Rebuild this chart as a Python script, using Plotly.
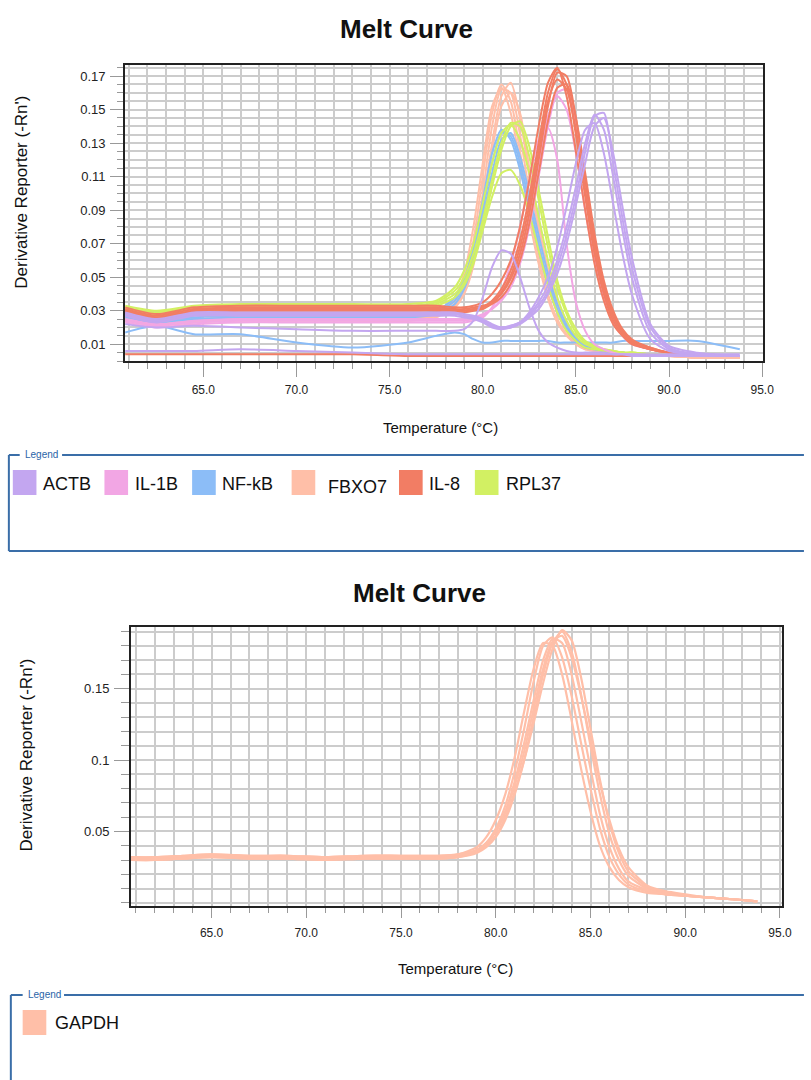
import plotly.graph_objects as go

W, H = 811, 1080


def px(x):
    return x / W


def py(y):
    return 1 - y / H


# ---------------- data: top chart ----------------
TEMP_TOP = [60.8, 62.5, 64.5, 67, 70, 73, 76, 77.5, 78.5, 79, 79.5, 80, 80.5, 81, 81.5, 82,
            82.5, 83, 83.5, 84, 84.5, 85, 85.5, 86, 86.5, 87, 87.5, 88, 89, 90, 91.5, 93.8]

FBXO7_1 = [0.025, 0.022, 0.024, 0.025, 0.025, 0.025, 0.025, 0.027, 0.036, 0.048, 0.072, 0.110, 0.148, 0.165, 0.155, 0.125,
           0.090, 0.062, 0.040, 0.025, 0.016, 0.010, 0.007, 0.006, 0.005, 0.005, 0.004, 0.004, 0.003, 0.003, 0.002, 0.002]
FBXO7_2 = [0.026, 0.023, 0.025, 0.026, 0.026, 0.026, 0.026, 0.027, 0.033, 0.042, 0.060, 0.092, 0.130, 0.158, 0.166, 0.145,
           0.110, 0.078, 0.052, 0.033, 0.021, 0.013, 0.009, 0.007, 0.006, 0.005, 0.004, 0.004, 0.003, 0.003, 0.002, 0.002]
FBXO7_3 = [0.024, 0.021, 0.023, 0.024, 0.024, 0.024, 0.024, 0.026, 0.034, 0.045, 0.066, 0.100, 0.140, 0.162, 0.160, 0.135,
           0.100, 0.070, 0.046, 0.029, 0.018, 0.011, 0.008, 0.006, 0.005, 0.005, 0.004, 0.004, 0.003, 0.003, 0.002, 0.002]
FBXO7_4 = [0.027, 0.023, 0.025, 0.026, 0.026, 0.026, 0.026, 0.028, 0.038, 0.052, 0.080, 0.118, 0.152, 0.163, 0.148, 0.118,
           0.085, 0.058, 0.037, 0.023, 0.015, 0.010, 0.007, 0.006, 0.005, 0.004, 0.004, 0.004, 0.003, 0.003, 0.002, 0.002]
FBXO7_5 = [0.025, 0.022, 0.024, 0.025, 0.025, 0.025, 0.025, 0.027, 0.032, 0.040, 0.057, 0.088, 0.125, 0.152, 0.160, 0.148,
           0.115, 0.082, 0.055, 0.035, 0.022, 0.014, 0.009, 0.007, 0.006, 0.005, 0.004, 0.004, 0.003, 0.003, 0.002, 0.002]

NFKB_1 = [0.027, 0.024, 0.026, 0.027, 0.027, 0.027, 0.027, 0.029, 0.036, 0.046, 0.064, 0.090, 0.118, 0.136, 0.134, 0.118,
          0.095, 0.070, 0.048, 0.031, 0.020, 0.013, 0.009, 0.007, 0.006, 0.005, 0.005, 0.004, 0.004, 0.003, 0.003, 0.003]
NFKB_2 = [0.028, 0.025, 0.027, 0.028, 0.028, 0.028, 0.028, 0.030, 0.038, 0.049, 0.068, 0.096, 0.124, 0.138, 0.132, 0.114,
          0.090, 0.066, 0.045, 0.029, 0.019, 0.012, 0.008, 0.007, 0.006, 0.005, 0.005, 0.004, 0.004, 0.003, 0.003, 0.003]
NFKB_3 = [0.026, 0.023, 0.025, 0.026, 0.026, 0.026, 0.026, 0.028, 0.034, 0.043, 0.060, 0.085, 0.112, 0.132, 0.136, 0.122,
          0.100, 0.075, 0.052, 0.034, 0.022, 0.014, 0.010, 0.008, 0.006, 0.005, 0.005, 0.004, 0.004, 0.003, 0.003, 0.003]
NFKB_LOW = [0.017, 0.021, 0.016, 0.016, 0.011, 0.008, 0.011, 0.015, 0.017, 0.016, 0.013, 0.011, 0.011, 0.012, 0.012, 0.012,
            0.012, 0.012, 0.012, 0.011, 0.011, 0.011, 0.011, 0.011, 0.011, 0.011, 0.012, 0.012, 0.012, 0.012, 0.012, 0.007]

RPL37_1 = [0.032, 0.029, 0.032, 0.033, 0.033, 0.033, 0.033, 0.035, 0.042, 0.050, 0.064, 0.084, 0.108, 0.130, 0.142, 0.140,
           0.122, 0.096, 0.068, 0.044, 0.028, 0.017, 0.011, 0.008, 0.007, 0.006, 0.005, 0.005, 0.004, 0.004, 0.003, 0.003]
RPL37_2 = [0.031, 0.028, 0.031, 0.032, 0.032, 0.032, 0.032, 0.034, 0.040, 0.047, 0.060, 0.080, 0.104, 0.126, 0.140, 0.143,
           0.128, 0.102, 0.074, 0.048, 0.030, 0.019, 0.012, 0.009, 0.007, 0.006, 0.005, 0.005, 0.004, 0.004, 0.003, 0.003]
RPL37_3 = [0.033, 0.030, 0.033, 0.034, 0.034, 0.034, 0.034, 0.036, 0.044, 0.054, 0.070, 0.094, 0.118, 0.136, 0.141, 0.132,
           0.112, 0.086, 0.060, 0.038, 0.024, 0.015, 0.010, 0.008, 0.006, 0.006, 0.005, 0.005, 0.004, 0.004, 0.003, 0.003]
RPL37_4 = [0.030, 0.027, 0.030, 0.031, 0.031, 0.031, 0.031, 0.033, 0.038, 0.045, 0.058, 0.078, 0.098, 0.112, 0.114, 0.105,
           0.088, 0.066, 0.045, 0.029, 0.018, 0.012, 0.008, 0.007, 0.006, 0.005, 0.005, 0.004, 0.004, 0.003, 0.003, 0.003]

IL1B_1 = [0.024, 0.021, 0.023, 0.024, 0.024, 0.024, 0.024, 0.024, 0.024, 0.024, 0.025, 0.027, 0.031, 0.037, 0.046, 0.062,
          0.086, 0.116, 0.146, 0.158, 0.150, 0.124, 0.090, 0.060, 0.038, 0.023, 0.015, 0.010, 0.007, 0.005, 0.004, 0.003]
IL1B_2 = [0.023, 0.020, 0.022, 0.023, 0.023, 0.023, 0.023, 0.023, 0.023, 0.023, 0.024, 0.026, 0.032, 0.042, 0.058, 0.080,
          0.108, 0.132, 0.139, 0.120, 0.070, 0.035, 0.018, 0.010, 0.007, 0.005, 0.004, 0.004, 0.003, 0.003, 0.003, 0.003]
IL1B_3 = [0.025, 0.022, 0.024, 0.025, 0.025, 0.025, 0.025, 0.025, 0.025, 0.025, 0.026, 0.028, 0.031, 0.036, 0.044, 0.058,
          0.080, 0.110, 0.140, 0.160, 0.162, 0.140, 0.104, 0.068, 0.042, 0.026, 0.017, 0.011, 0.007, 0.005, 0.004, 0.003]

IL8_1 = [0.030, 0.026, 0.030, 0.031, 0.031, 0.031, 0.031, 0.031, 0.030, 0.030, 0.031, 0.032, 0.036, 0.043, 0.054, 0.072,
         0.098, 0.130, 0.160, 0.174, 0.165, 0.135, 0.098, 0.064, 0.040, 0.024, 0.016, 0.011, 0.007, 0.005, 0.004, 0.003]
IL8_2 = [0.031, 0.027, 0.031, 0.032, 0.032, 0.032, 0.032, 0.032, 0.031, 0.031, 0.032, 0.033, 0.035, 0.040, 0.049, 0.064,
         0.088, 0.120, 0.152, 0.172, 0.170, 0.145, 0.108, 0.072, 0.045, 0.028, 0.018, 0.012, 0.008, 0.005, 0.004, 0.003]
IL8_3 = [0.029, 0.025, 0.029, 0.030, 0.030, 0.030, 0.030, 0.030, 0.029, 0.029, 0.030, 0.031, 0.034, 0.038, 0.046, 0.060,
         0.082, 0.112, 0.143, 0.163, 0.165, 0.145, 0.112, 0.076, 0.048, 0.030, 0.019, 0.013, 0.008, 0.005, 0.004, 0.003]
IL8_4 = [0.032, 0.028, 0.032, 0.033, 0.033, 0.033, 0.033, 0.033, 0.032, 0.032, 0.033, 0.035, 0.040, 0.048, 0.060, 0.080,
         0.108, 0.140, 0.166, 0.175, 0.158, 0.125, 0.090, 0.058, 0.036, 0.022, 0.015, 0.010, 0.007, 0.005, 0.004, 0.003]
IL8_5 = [0.030, 0.026, 0.030, 0.031, 0.031, 0.031, 0.031, 0.031, 0.030, 0.030, 0.031, 0.032, 0.035, 0.041, 0.051, 0.068,
         0.093, 0.125, 0.155, 0.168, 0.162, 0.138, 0.102, 0.068, 0.042, 0.026, 0.017, 0.011, 0.007, 0.005, 0.004, 0.003]
IL8_LOW = [0.004, 0.004, 0.004, 0.004, 0.004, 0.004, 0.003, 0.003, 0.003, 0.003, 0.003, 0.003, 0.003, 0.003, 0.003, 0.003,
           0.003, 0.003, 0.003, 0.003, 0.003, 0.003, 0.003, 0.003, 0.003, 0.003, 0.003, 0.003, 0.003, 0.003, 0.003, 0.003]

ACTB_1 = [0.028, 0.024, 0.028, 0.028, 0.028, 0.028, 0.028, 0.028, 0.028, 0.027, 0.026, 0.024, 0.021, 0.020, 0.021, 0.023,
          0.028, 0.035, 0.045, 0.060, 0.080, 0.104, 0.130, 0.147, 0.138, 0.110, 0.078, 0.050, 0.017, 0.007, 0.004, 0.003]
ACTB_2 = [0.029, 0.025, 0.029, 0.029, 0.029, 0.029, 0.029, 0.029, 0.029, 0.028, 0.027, 0.025, 0.022, 0.020, 0.020, 0.022,
          0.026, 0.031, 0.040, 0.052, 0.070, 0.093, 0.118, 0.140, 0.145, 0.124, 0.092, 0.062, 0.022, 0.009, 0.005, 0.003]
ACTB_3 = [0.027, 0.023, 0.027, 0.027, 0.027, 0.027, 0.027, 0.027, 0.027, 0.026, 0.025, 0.023, 0.020, 0.019, 0.020, 0.023,
          0.029, 0.038, 0.050, 0.068, 0.092, 0.118, 0.138, 0.142, 0.124, 0.094, 0.064, 0.040, 0.013, 0.006, 0.004, 0.003]
ACTB_4 = [0.028, 0.024, 0.028, 0.028, 0.028, 0.028, 0.028, 0.028, 0.028, 0.027, 0.026, 0.024, 0.021, 0.020, 0.021, 0.023,
          0.027, 0.033, 0.042, 0.056, 0.075, 0.098, 0.125, 0.146, 0.148, 0.118, 0.085, 0.056, 0.020, 0.008, 0.004, 0.003]
ACTB_SMALL = [0.022, 0.020, 0.021, 0.020, 0.019, 0.018, 0.018, 0.018, 0.018, 0.019, 0.024, 0.038, 0.056, 0.066, 0.064, 0.050,
              0.032, 0.018, 0.011, 0.008, 0.006, 0.005, 0.005, 0.005, 0.005, 0.004, 0.004, 0.004, 0.004, 0.004, 0.004, 0.004]
ACTB_LOW = [0.006, 0.006, 0.006, 0.007, 0.006, 0.005, 0.004, 0.004, 0.004, 0.004, 0.004, 0.004, 0.004, 0.004, 0.004, 0.004,
            0.004, 0.004, 0.004, 0.004, 0.004, 0.004, 0.004, 0.004, 0.004, 0.004, 0.004, 0.003, 0.003, 0.003, 0.003, 0.003]

TOP_GENES = ["ACTB", "IL-1B", "NF-kB", "FBXO7", "IL-8", "RPL37"]
TOP_CURVES = {
    "FBXO7": [FBXO7_1, FBXO7_2, FBXO7_3, FBXO7_4, FBXO7_5],
    "NF-kB": [NFKB_LOW, NFKB_1, NFKB_2, NFKB_3],
    "RPL37": [RPL37_1, RPL37_2, RPL37_3, RPL37_4],
    "IL-1B": [IL1B_1, IL1B_2, IL1B_3],
    "IL-8": [IL8_LOW, IL8_1, IL8_2, IL8_3, IL8_4, IL8_5],
    "ACTB": [ACTB_LOW, ACTB_SMALL, ACTB_1, ACTB_2, ACTB_3, ACTB_4],
}
DRAW_ORDER = ["FBXO7", "NF-kB", "RPL37", "IL-1B", "IL-8", "ACTB"]

# ---------------- data: bottom chart ----------------
TEMP_BOT = [60.75, 62, 63.5, 65, 67, 69, 71, 73, 75, 77, 78, 79, 79.5, 80, 80.5, 81, 81.5, 82, 82.5, 83, 83.5,
            84, 84.5, 85, 85.5, 86, 86.5, 87, 88, 89, 90, 91, 92, 93, 93.8]
GAPDH_1 = [0.031, 0.031, 0.032, 0.033, 0.032, 0.032, 0.031, 0.032, 0.032, 0.032, 0.033, 0.037, 0.042, 0.052, 0.068, 0.092,
           0.122, 0.155, 0.180, 0.186, 0.172, 0.145, 0.112, 0.080, 0.052, 0.032, 0.020, 0.013, 0.008, 0.006, 0.005, 0.004,
           0.003, 0.002, 0.001]
GAPDH_2 = [0.030, 0.030, 0.031, 0.032, 0.031, 0.031, 0.030, 0.031, 0.031, 0.031, 0.032, 0.035, 0.039, 0.046, 0.058, 0.076,
           0.100, 0.130, 0.160, 0.182, 0.190, 0.176, 0.146, 0.110, 0.076, 0.048, 0.030, 0.019, 0.010, 0.007, 0.005, 0.004,
           0.003, 0.002, 0.001]
GAPDH_3 = [0.032, 0.032, 0.033, 0.034, 0.033, 0.033, 0.032, 0.033, 0.033, 0.033, 0.034, 0.039, 0.046, 0.058, 0.076, 0.102,
           0.134, 0.164, 0.182, 0.180, 0.160, 0.128, 0.094, 0.064, 0.040, 0.025, 0.016, 0.011, 0.007, 0.006, 0.005, 0.004,
           0.003, 0.002, 0.001]
GAPDH_4 = [0.031, 0.031, 0.032, 0.033, 0.032, 0.032, 0.031, 0.032, 0.032, 0.032, 0.033, 0.036, 0.040, 0.047, 0.060, 0.078,
           0.100, 0.126, 0.154, 0.178, 0.191, 0.184, 0.158, 0.122, 0.086, 0.056, 0.035, 0.022, 0.011, 0.007, 0.005, 0.004,
           0.003, 0.002, 0.001]
GAPDH_5 = [0.030, 0.030, 0.031, 0.032, 0.031, 0.031, 0.030, 0.031, 0.031, 0.031, 0.032, 0.036, 0.041, 0.050, 0.064, 0.085,
           0.112, 0.142, 0.170, 0.185, 0.182, 0.160, 0.128, 0.094, 0.062, 0.039, 0.024, 0.015, 0.009, 0.006, 0.005, 0.004,
           0.003, 0.002, 0.001]
GAPDH_6 = [0.032, 0.032, 0.033, 0.034, 0.033, 0.033, 0.032, 0.033, 0.033, 0.033, 0.034, 0.037, 0.042, 0.050, 0.063, 0.082,
           0.106, 0.136, 0.164, 0.183, 0.187, 0.172, 0.145, 0.114, 0.084, 0.058, 0.038, 0.025, 0.012, 0.008, 0.006, 0.004,
           0.003, 0.002, 0.001]
BOT_GENES = ["GAPDH"]
BOT_CURVES = {"GAPDH": [GAPDH_1, GAPDH_2, GAPDH_3, GAPDH_4, GAPDH_5, GAPDH_6]}

COLORS = {
    "ACTB": "#c3a6f0",
    "IL-1B": "#f2a6e4",
    "NF-kB": "#8cbdf7",
    "FBXO7": "#ffbfa8",
    "IL-8": "#f27d64",
    "RPL37": "#d2f063",
    "GAPDH": "#ffbfa8",
}

FONT = "Liberation Sans, Arial, sans-serif"
GRID = "#cccccc"
TICKC = "#999999"

fig = go.Figure()

for g in DRAW_ORDER:
    for ys in TOP_CURVES[g]:
        fig.add_trace(go.Scatter(x=TEMP_TOP, y=ys, mode="lines", xaxis="x", yaxis="y",
                                 line=dict(color=COLORS[g], width=2.0, shape="spline", smoothing=0.7),
                                 showlegend=False, hoverinfo="skip"))
for g in BOT_GENES:
    for ys in BOT_CURVES[g]:
        fig.add_trace(go.Scatter(x=TEMP_BOT, y=ys, mode="lines", xaxis="x2", yaxis="y2",
                                 line=dict(color=COLORS[g], width=2.2, shape="spline", smoothing=0.7),
                                 showlegend=False, hoverinfo="skip"))


def xax(domain, anchor, rng, ticklen, minorlen, standoff):
    return dict(domain=domain, anchor=anchor, range=rng, tick0=60, dtick=5, tickformat=".1f",
                ticks="outside", ticklen=ticklen, tickcolor=TICKC, tickwidth=1,
                ticklabelstandoff=standoff,
                showgrid=True, gridcolor=GRID, gridwidth=1.5, zeroline=False,
                minor=dict(tick0=60, dtick=1, ticks="outside", ticklen=minorlen, tickcolor=TICKC,
                           showgrid=True, gridcolor=GRID, gridwidth=1.5),
                showline=True, linecolor="#222222", linewidth=2, mirror=True,
                tickfont=dict(family=FONT, size=12, color="#222222"))


layout_top_y = dict(domain=[py(361), py(65)], anchor="x", range=[0, 0.1766], tick0=0.01, dtick=0.02,
                    tickformat=".2f", ticks="outside", ticklen=13, tickcolor=TICKC, ticklabelstandoff=2,
                    showgrid=True, gridcolor=GRID, gridwidth=1.5, zeroline=False,
                    minor=dict(tick0=0, dtick=0.005, ticks="outside", ticklen=6, tickcolor=TICKC,
                               showgrid=True, gridcolor=GRID, gridwidth=1.5),
                    showline=True, linecolor="#222222", linewidth=2, mirror=True,
                    tickfont=dict(family=FONT, size=13, color="#222222"))
layout_bot_y = dict(domain=[py(906), py(627)], anchor="x2", range=[-0.0022, 0.1932],
                    tickmode="array", tickvals=[0.05, 0.1, 0.15], ticktext=["0.05", "0.1", "0.15"],
                    ticks="outside", ticklen=15, tickcolor=TICKC, ticklabelstandoff=2,
                    showgrid=True, gridcolor=GRID, gridwidth=1.5, zeroline=False,
                    minor=dict(tickmode="linear", tick0=0, dtick=0.01, ticks="outside", ticklen=8, tickcolor=TICKC,
                               showgrid=True, gridcolor=GRID, gridwidth=1.5),
                    showline=True, linecolor="#222222", linewidth=2, mirror=True,
                    tickfont=dict(family=FONT, size=13, color="#222222"))

fig.update_layout(
    width=W, height=H, autosize=False,
    margin=dict(l=0, r=0, t=0, b=0),
    paper_bgcolor="white", plot_bgcolor="white",
    xaxis=xax([px(127), px(774)], "y", [60.8, 95.02], 14, 6, 3),
    yaxis=layout_top_y,
    xaxis2=xax([px(133), px(794)], "y2", [60.75, 95.12], 10, 5, 5),
    yaxis2=layout_bot_y,
    showlegend=False,
)

ann = []
shapes = []


def text(x, y, s, size, family=FONT, color="#111111", bold=False, angle=0, xanchor="center"):
    ann.append(dict(x=px(x), y=py(y), xref="paper", yref="paper", text=("<b>%s</b>" % s) if bold else s,
                    showarrow=False, xanchor=xanchor, yanchor="middle", textangle=angle,
                    font=dict(family=family, size=size, color=color)))


# titles
text(413, 29, "Melt Curve", 26, bold=True)
text(426, 593, "Melt Curve", 26, bold=True)
# axis titles
text(447, 427, "Temperature (°C)", 15)
text(462, 968, "Temperature (°C)", 15)
text(21, 192, "Derivative Reporter (-Rn')", 17, angle=-90)
text(26, 755, "Derivative Reporter (-Rn')", 17, angle=-90)

BOX = "#3a6ea8"


def legend_box(left, top, bottom, label_x0, label_x1):
    shapes.append(dict(type="line", xref="paper", yref="paper", x0=px(left), x1=px(label_x0 - 3),
                       y0=py(top), y1=py(top), line=dict(color=BOX, width=2)))
    shapes.append(dict(type="line", xref="paper", yref="paper", x0=px(label_x1 + 3), x1=px(W + 5),
                       y0=py(top), y1=py(top), line=dict(color=BOX, width=2)))
    shapes.append(dict(type="line", xref="paper", yref="paper", x0=px(left), x1=px(left),
                       y0=py(top), y1=py(bottom), line=dict(color=BOX, width=2)))
    if bottom < H:
        shapes.append(dict(type="line", xref="paper", yref="paper", x0=px(left), x1=px(W + 5),
                           y0=py(bottom), y1=py(bottom), line=dict(color=BOX, width=2)))
    text(label_x0, top - 1, "Legend", 10, color="#2a64a8", xanchor="left")


legend_box(9, 455, 551, 23, 60)
legend_box(11, 995, H + 10, 26, 62)


def legend_item(x0, y0, name, tx, ty):
    shapes.append(dict(type="rect", xref="paper", yref="paper", x0=px(x0), x1=px(x0 + 24),
                       y0=py(y0 + 25), y1=py(y0), fillcolor=COLORS[name], line=dict(width=0)))
    text(tx, ty, name, 18, xanchor="left")


TOP_SWATCH_X = [13, 106, 195, 296, 405, 482]
TOP_TEXT_X = [42, 135, 223, 331, 433, 512]
for g, sx, tx in zip(TOP_GENES, TOP_SWATCH_X, TOP_TEXT_X):
    legend_item(sx, 470, g, tx, 487 if g == "FBXO7" else 484)
legend_item(23, 1010, BOT_GENES[0], 54, 1023)

fig.update_layout(annotations=ann, shapes=shapes)
fig.write_html("out.html")
